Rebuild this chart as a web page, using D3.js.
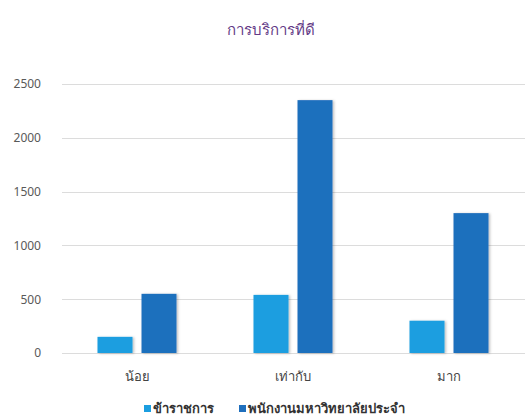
<!DOCTYPE html>
<html>
<head>
<meta charset="utf-8">
<script src="https://cdn.jsdelivr.net/npm/d3@7"></script>
<style>
  html, body { margin: 0; padding: 0; background: #fff; }
  svg { display: block; font-family: "Noto Sans", "DejaVu Sans", sans-serif; }
</style>
</head>
<body>
<svg id="chart" width="525" height="417"></svg>
<script>
// Survey answers for "good service", split by staff type
const categories = ["น้อย", "เท่ากับ", "มาก"];
const seriesNames = ["ข้าราชการ", "พนักงานมหาวิทยาลัยประจำ"];
const civilServants = [150, 540, 300];
const universityStaff = [550, 2350, 1300];
const yTicks = [0, 500, 1000, 1500, 2000, 2500];
const chartTitle = "การบริการที่ดี";

const colors = ["#1b9ee0", "#1f6fbd"];
const seriesValues = [civilServants, universityStaff];

const svg = d3.select("#chart");
const plotLeft = 59, plotRight = 527, plotTop = 84, plotBottom = 353;

const defs = svg.append("defs");
const shadow = defs.append("filter").attr("id", "barShadow")
  .attr("x", "-20%").attr("y", "-10%").attr("width", "150%").attr("height", "130%");
shadow.append("feDropShadow").attr("dx", 1.5).attr("dy", 0.5)
  .attr("stdDeviation", 1.2).attr("flood-color", "#000").attr("flood-opacity", 0.25);

const x = d3.scaleBand().domain(categories).range([plotLeft, plotRight]);
const x1 = d3.scaleBand().domain(d3.range(seriesNames.length))
  .range([0, x.bandwidth()]).paddingInner(0.2045).paddingOuter(0.875);
const y = d3.scaleLinear().domain([0, 2500]).range([plotBottom, plotTop]);

// title
svg.append("text")
  .attr("x", 271).attr("y", 35)
  .attr("text-anchor", "middle")
  .attr("font-size", 15)
  .attr("fill", "#633a86")
  .text(chartTitle);

// gridlines
svg.append("g")
  .selectAll("line")
  .data(yTicks)
  .join("line")
  .attr("x1", 62).attr("x2", 525)
  .attr("y1", d => Math.round(y(d)) + 0.5)
  .attr("y2", d => Math.round(y(d)) + 0.5)
  .attr("stroke", "#dcdcdc")
  .attr("stroke-width", 1);

// y axis labels
const yAxis = d3.axisLeft(y).tickValues(yTicks).tickFormat(d3.format("d")).tickSize(0).tickPadding(0);
const yg = svg.append("g").attr("transform", "translate(41,0)").call(yAxis);
yg.select(".domain").remove();
yg.selectAll("text")
  .attr("font-size", 12)
  .attr("fill", "#595959")
  .attr("font-family", "'Noto Sans', 'DejaVu Sans', sans-serif");

// bars
const groups = svg.append("g")
  .selectAll("g")
  .data(categories)
  .join("g")
  .attr("transform", d => `translate(${x(d)},0)`);

groups.selectAll("rect")
  .data((c, ci) => seriesValues.map((vals, si) => ({ si, v: vals[ci] })))
  .join("rect")
  .attr("x", d => x1(d.si))
  .attr("width", x1.bandwidth())
  .attr("y", d => y(d.v))
  .attr("height", d => plotBottom - y(d.v))
  .attr("fill", d => colors[d.si])
  .attr("filter", "url(#barShadow)");

// x axis labels
const xAxis = d3.axisBottom(x).tickSize(0).tickPadding(0);
const xg = svg.append("g").attr("transform", `translate(0,${plotBottom + 19})`).call(xAxis);
xg.select(".domain").remove();
xg.selectAll("text")
  .attr("font-size", 13)
  .attr("fill", "#444")
  .attr("font-family", "'Noto Sans', 'DejaVu Sans', sans-serif");

// legend
const legendItems = [
  { name: seriesNames[0], color: colors[0], x: 144 },
  { name: seriesNames[1], color: colors[1], x: 239 }
];
const lg = svg.append("g");
legendItems.forEach(it => {
  lg.append("rect")
    .attr("x", it.x).attr("y", 405)
    .attr("width", 7).attr("height", 7)
    .attr("fill", it.color);
  lg.append("text")
    .attr("x", it.x + 9).attr("y", 413)
    .attr("font-size", 13)
    .attr("font-weight", "bold")
    .attr("fill", "#333")
    .text(it.name);
});
</script>
</body>
</html>
